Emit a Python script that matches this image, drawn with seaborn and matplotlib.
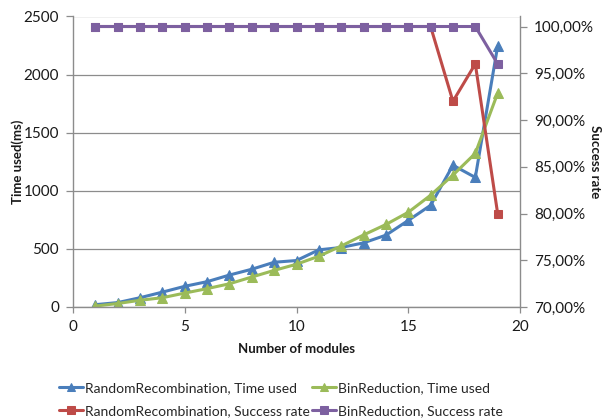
import matplotlib
matplotlib.use("Agg")
import matplotlib.pyplot as plt
import seaborn as sns
import pandas as pd
from matplotlib.ticker import FuncFormatter, MultipleLocator

modules = list(range(1, 20))
rr_time = [20, 38, 80, 128, 178, 218, 275, 325, 385, 400, 492, 512, 552, 618, 745, 875, 1220, 1115, 2245]
br_time = [8, 30, 58, 80, 120, 158, 200, 258, 315, 368, 437, 525, 620, 710, 815, 962, 1135, 1322, 1840]
rr_rate = [1.0] * 16 + [0.92, 0.96, 0.80]
br_rate = [1.0] * 18 + [0.96]

x_label = "Number of modules"
y_label = "Time used(ms)"
y2_label = "Success rate"
names = ["RandomRecombination, Time used", "BinReduction, Time used",
         "RandomRecombination, Success rate", "BinReduction, Success rate"]

df = pd.DataFrame({"m": modules, "rr_t": rr_time, "br_t": br_time,
                   "rr_r": rr_rate, "br_r": br_rate})

sns.set_style("white")
plt.rcParams["font.family"] = ["Lato", "DejaVu Sans"]

BLUE = "#4A7EBB"
GREEN = "#9BBB59"
RED = "#BE4B48"
PURPLE = "#7D60A0"
GREY = "#8C8C8C"
TXT = "#1a1a1a"

fig = plt.figure(figsize=(6.02, 4.2), dpi=100)
ax = fig.add_axes([73 / 602, 1 - 307 / 420, (520 - 73) / 602, (307 - 16.5) / 420])
ax2 = ax.twinx()

lw = 2.2
ms = 6.5
sns.lineplot(data=df, x="m", y="rr_t", ax=ax, color=BLUE, marker="^", markersize=ms,
             markeredgecolor=BLUE, linewidth=lw, label=names[0], legend=False)
sns.lineplot(data=df, x="m", y="br_t", ax=ax, color=GREEN, marker="^", markersize=ms,
             markeredgecolor=GREEN, linewidth=lw, label=names[1], legend=False)
sns.lineplot(data=df, x="m", y="rr_r", ax=ax2, color=RED, marker="s", markersize=ms - 0.5,
             markeredgecolor=RED, linewidth=lw, label=names[2], legend=False)
sns.lineplot(data=df, x="m", y="br_r", ax=ax2, color=PURPLE, marker="s", markersize=ms - 0.5,
             markeredgecolor=PURPLE, linewidth=lw, label=names[3], legend=False)

ax.set_xlim(0, 20)
ax.set_ylim(0, 2500)
ax2.set_ylim(0.70, 1.0107)
ax.xaxis.set_major_locator(MultipleLocator(5))
ax.yaxis.set_major_locator(MultipleLocator(500))
ax2.set_yticks([0.70, 0.75, 0.80, 0.85, 0.90, 0.95, 1.00])
ax2.yaxis.set_major_formatter(FuncFormatter(lambda v, p: f"{v*100:.2f}%".replace(".", ",")))

ax.grid(axis="y", color=GREY, linewidth=0.9)
ax.grid(axis="x", visible=False)
ax2.grid(False)

for a in (ax, ax2):
    for s in a.spines.values():
        s.set_visible(False)
ax.spines["left"].set_visible(True)
ax.spines["bottom"].set_visible(True)
ax2.spines["right"].set_visible(True)
for s in (ax.spines["left"], ax.spines["bottom"], ax2.spines["right"]):
    s.set_color(GREY)
    s.set_linewidth(1.0)

tfs = 11
ax.tick_params(axis="x", direction="out", length=4, width=0.9, color=GREY,
               labelsize=tfs, labelcolor=TXT, pad=5.5, bottom=True)
ax.tick_params(axis="y", direction="out", length=5, width=0.9, color=GREY,
               labelsize=tfs, labelcolor=TXT, pad=5, left=True)
ax2.tick_params(axis="y", direction="out", length=5, width=0.9, color=GREY,
                labelsize=tfs, labelcolor=TXT, pad=5, right=True)

ax.set_xlabel(x_label, fontsize=9.5, fontweight="bold", color=TXT, labelpad=6)
ax.set_ylabel(y_label, fontsize=9.5, fontweight="bold", color=TXT, labelpad=0)
ax2.set_ylabel(y2_label, fontsize=9.5, fontweight="bold", color=TXT, rotation=270, labelpad=5)

h1, l1 = ax.get_legend_handles_labels()
h2, l2 = ax2.get_legend_handles_labels()
handles = [h1[0], h2[0], h1[1], h2[1]]
labels = [l1[0], l2[0], l1[1], l2[1]]
fig.legend(handles, labels, ncol=2, loc="center left",
           bbox_to_anchor=(46.5 / 602, 1 - 399.5 / 420),
           frameon=False, fontsize=10, handlelength=1.7, handletextpad=0.15,
           columnspacing=0.2, labelspacing=0.8, markerscale=0.85)

fig.savefig("out.png", dpi=100, facecolor="white")
